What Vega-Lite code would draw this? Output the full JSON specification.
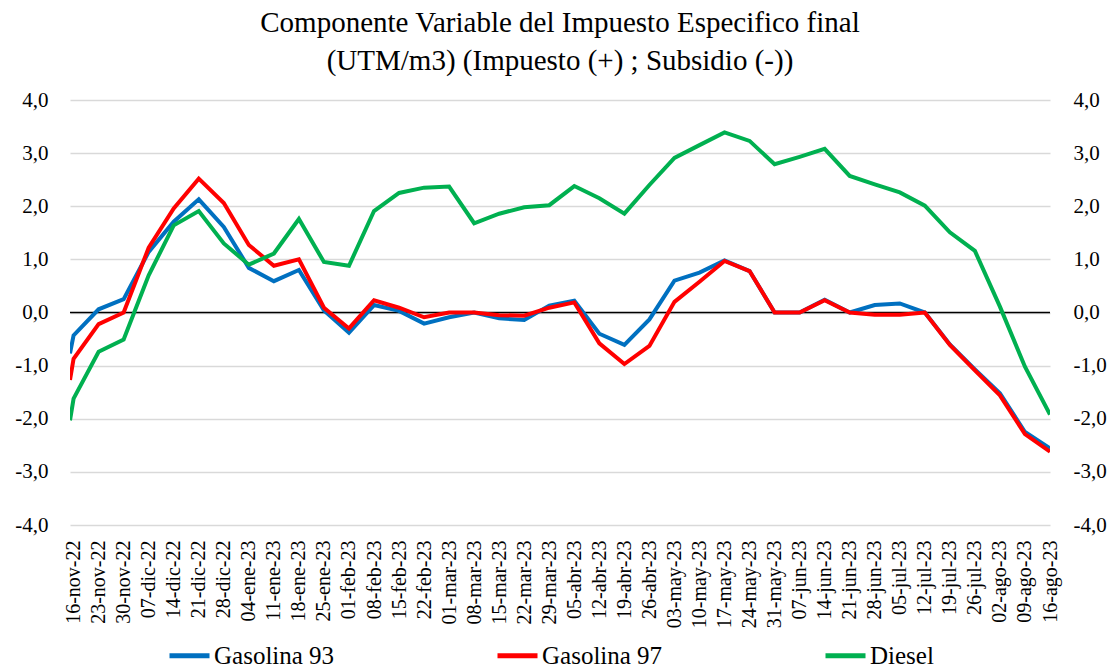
{
  "$schema": "https://vega.github.io/schema/vega-lite/v6.json",
  "width": 980,
  "height": 425,
  "autosize": {"type": "none"},
  "padding": {"left": 70, "top": 100, "right": 60, "bottom": 147},
  "background": "white",
  "title": {
    "text": ["Componente Variable del Impuesto Especifico final", "(UTM/m3) (Impuesto (+) ; Subsidio (-))"],
    "font": "Liberation Serif",
    "fontSize": 29,
    "fontWeight": "normal",
    "color": "black",
    "lineHeight": 38,
    "anchor": "middle",
    "offset": 13
  },
  "config": {
    "view": {"stroke": null},
    "axis": {"labelFont": "Liberation Serif", "labelColor": "black"}
  },
  "layer": [
    {
      "data": {"values": [{"y": 0}]},
      "mark": {"type": "rule", "color": "black", "strokeWidth": 1.5},
      "encoding": {
        "y": {
          "field": "y",
          "type": "quantitative",
          "scale": {"domain": [-4, 4], "nice": false},
          "axis": {
            "orient": "right",
            "title": null,
            "values": [-4, -3, -2, -1, 0, 1, 2, 3, 4],
            "labelExpr": "(datum.value < 0 ? '-' : '') + replace(format(abs(datum.value), '.1f'), '.', ',')",
            "labelFontSize": 21,
            "labelPadding": 23,
            "ticks": false,
            "tickSize": 0,
            "domain": false,
            "grid": false
          }
        }
      }
    },
    {
      "data": {
        "values": [
          {"d": "2022-11-15T00:00:00", "s": "Gasolina 93", "v": -0.77},
          {"d": "2022-11-16T00:00:00", "s": "Gasolina 93", "v": -0.43},
          {"d": "2022-11-23T00:00:00", "s": "Gasolina 93", "v": 0.06},
          {"d": "2022-11-30T00:00:00", "s": "Gasolina 93", "v": 0.25},
          {"d": "2022-12-07T00:00:00", "s": "Gasolina 93", "v": 1.14},
          {"d": "2022-12-14T00:00:00", "s": "Gasolina 93", "v": 1.71},
          {"d": "2022-12-21T00:00:00", "s": "Gasolina 93", "v": 2.13},
          {"d": "2022-12-28T00:00:00", "s": "Gasolina 93", "v": 1.61},
          {"d": "2023-01-04T00:00:00", "s": "Gasolina 93", "v": 0.84},
          {"d": "2023-01-11T00:00:00", "s": "Gasolina 93", "v": 0.59},
          {"d": "2023-01-18T00:00:00", "s": "Gasolina 93", "v": 0.80},
          {"d": "2023-01-25T00:00:00", "s": "Gasolina 93", "v": 0.04},
          {"d": "2023-02-01T00:00:00", "s": "Gasolina 93", "v": -0.38},
          {"d": "2023-02-08T00:00:00", "s": "Gasolina 93", "v": 0.14},
          {"d": "2023-02-15T00:00:00", "s": "Gasolina 93", "v": 0.03},
          {"d": "2023-02-22T00:00:00", "s": "Gasolina 93", "v": -0.21},
          {"d": "2023-03-01T00:00:00", "s": "Gasolina 93", "v": -0.09},
          {"d": "2023-03-08T00:00:00", "s": "Gasolina 93", "v": 0.0},
          {"d": "2023-03-15T00:00:00", "s": "Gasolina 93", "v": -0.11},
          {"d": "2023-03-22T00:00:00", "s": "Gasolina 93", "v": -0.14},
          {"d": "2023-03-29T00:00:00", "s": "Gasolina 93", "v": 0.13},
          {"d": "2023-04-05T00:00:00", "s": "Gasolina 93", "v": 0.22},
          {"d": "2023-04-12T00:00:00", "s": "Gasolina 93", "v": -0.40},
          {"d": "2023-04-19T00:00:00", "s": "Gasolina 93", "v": -0.61},
          {"d": "2023-04-26T00:00:00", "s": "Gasolina 93", "v": -0.13},
          {"d": "2023-05-03T00:00:00", "s": "Gasolina 93", "v": 0.60},
          {"d": "2023-05-10T00:00:00", "s": "Gasolina 93", "v": 0.75},
          {"d": "2023-05-17T00:00:00", "s": "Gasolina 93", "v": 0.98},
          {"d": "2023-05-24T00:00:00", "s": "Gasolina 93", "v": 0.78},
          {"d": "2023-05-31T00:00:00", "s": "Gasolina 93", "v": 0.0},
          {"d": "2023-06-07T00:00:00", "s": "Gasolina 93", "v": 0.0},
          {"d": "2023-06-14T00:00:00", "s": "Gasolina 93", "v": 0.24},
          {"d": "2023-06-21T00:00:00", "s": "Gasolina 93", "v": 0.0},
          {"d": "2023-06-28T00:00:00", "s": "Gasolina 93", "v": 0.14},
          {"d": "2023-07-05T00:00:00", "s": "Gasolina 93", "v": 0.17},
          {"d": "2023-07-12T00:00:00", "s": "Gasolina 93", "v": 0.0},
          {"d": "2023-07-19T00:00:00", "s": "Gasolina 93", "v": -0.60},
          {"d": "2023-07-26T00:00:00", "s": "Gasolina 93", "v": -1.07},
          {"d": "2023-08-02T00:00:00", "s": "Gasolina 93", "v": -1.52},
          {"d": "2023-08-09T00:00:00", "s": "Gasolina 93", "v": -2.25},
          {"d": "2023-08-16T00:00:00", "s": "Gasolina 93", "v": -2.56},
          {"d": "2022-11-15T00:00:00", "s": "Gasolina 97", "v": -1.27},
          {"d": "2022-11-16T00:00:00", "s": "Gasolina 97", "v": -0.87},
          {"d": "2022-11-23T00:00:00", "s": "Gasolina 97", "v": -0.22},
          {"d": "2022-11-30T00:00:00", "s": "Gasolina 97", "v": 0.0},
          {"d": "2022-12-07T00:00:00", "s": "Gasolina 97", "v": 1.22},
          {"d": "2022-12-14T00:00:00", "s": "Gasolina 97", "v": 1.96},
          {"d": "2022-12-21T00:00:00", "s": "Gasolina 97", "v": 2.52},
          {"d": "2022-12-28T00:00:00", "s": "Gasolina 97", "v": 2.06},
          {"d": "2023-01-04T00:00:00", "s": "Gasolina 97", "v": 1.27},
          {"d": "2023-01-11T00:00:00", "s": "Gasolina 97", "v": 0.88},
          {"d": "2023-01-18T00:00:00", "s": "Gasolina 97", "v": 1.0},
          {"d": "2023-01-25T00:00:00", "s": "Gasolina 97", "v": 0.09},
          {"d": "2023-02-01T00:00:00", "s": "Gasolina 97", "v": -0.30},
          {"d": "2023-02-08T00:00:00", "s": "Gasolina 97", "v": 0.23},
          {"d": "2023-02-15T00:00:00", "s": "Gasolina 97", "v": 0.09},
          {"d": "2023-02-22T00:00:00", "s": "Gasolina 97", "v": -0.09},
          {"d": "2023-03-01T00:00:00", "s": "Gasolina 97", "v": 0.0},
          {"d": "2023-03-08T00:00:00", "s": "Gasolina 97", "v": 0.0},
          {"d": "2023-03-15T00:00:00", "s": "Gasolina 97", "v": -0.05},
          {"d": "2023-03-22T00:00:00", "s": "Gasolina 97", "v": -0.06},
          {"d": "2023-03-29T00:00:00", "s": "Gasolina 97", "v": 0.09},
          {"d": "2023-04-05T00:00:00", "s": "Gasolina 97", "v": 0.19},
          {"d": "2023-04-12T00:00:00", "s": "Gasolina 97", "v": -0.58},
          {"d": "2023-04-19T00:00:00", "s": "Gasolina 97", "v": -0.97},
          {"d": "2023-04-26T00:00:00", "s": "Gasolina 97", "v": -0.63},
          {"d": "2023-05-03T00:00:00", "s": "Gasolina 97", "v": 0.20},
          {"d": "2023-05-10T00:00:00", "s": "Gasolina 97", "v": 0.58},
          {"d": "2023-05-17T00:00:00", "s": "Gasolina 97", "v": 0.97},
          {"d": "2023-05-24T00:00:00", "s": "Gasolina 97", "v": 0.78},
          {"d": "2023-05-31T00:00:00", "s": "Gasolina 97", "v": 0.0},
          {"d": "2023-06-07T00:00:00", "s": "Gasolina 97", "v": 0.0},
          {"d": "2023-06-14T00:00:00", "s": "Gasolina 97", "v": 0.23},
          {"d": "2023-06-21T00:00:00", "s": "Gasolina 97", "v": 0.0},
          {"d": "2023-06-28T00:00:00", "s": "Gasolina 97", "v": -0.04},
          {"d": "2023-07-05T00:00:00", "s": "Gasolina 97", "v": -0.04},
          {"d": "2023-07-12T00:00:00", "s": "Gasolina 97", "v": 0.0},
          {"d": "2023-07-19T00:00:00", "s": "Gasolina 97", "v": -0.61},
          {"d": "2023-07-26T00:00:00", "s": "Gasolina 97", "v": -1.09},
          {"d": "2023-08-02T00:00:00", "s": "Gasolina 97", "v": -1.56},
          {"d": "2023-08-09T00:00:00", "s": "Gasolina 97", "v": -2.29},
          {"d": "2023-08-16T00:00:00", "s": "Gasolina 97", "v": -2.62},
          {"d": "2022-11-15T00:00:00", "s": "Diesel", "v": -2.03},
          {"d": "2022-11-16T00:00:00", "s": "Diesel", "v": -1.62},
          {"d": "2022-11-23T00:00:00", "s": "Diesel", "v": -0.74},
          {"d": "2022-11-30T00:00:00", "s": "Diesel", "v": -0.51},
          {"d": "2022-12-07T00:00:00", "s": "Diesel", "v": 0.70},
          {"d": "2022-12-14T00:00:00", "s": "Diesel", "v": 1.64},
          {"d": "2022-12-21T00:00:00", "s": "Diesel", "v": 1.91},
          {"d": "2022-12-28T00:00:00", "s": "Diesel", "v": 1.30},
          {"d": "2023-01-04T00:00:00", "s": "Diesel", "v": 0.90},
          {"d": "2023-01-11T00:00:00", "s": "Diesel", "v": 1.11},
          {"d": "2023-01-18T00:00:00", "s": "Diesel", "v": 1.76},
          {"d": "2023-01-25T00:00:00", "s": "Diesel", "v": 0.95},
          {"d": "2023-02-01T00:00:00", "s": "Diesel", "v": 0.88},
          {"d": "2023-02-08T00:00:00", "s": "Diesel", "v": 1.91},
          {"d": "2023-02-15T00:00:00", "s": "Diesel", "v": 2.25},
          {"d": "2023-02-22T00:00:00", "s": "Diesel", "v": 2.35},
          {"d": "2023-03-01T00:00:00", "s": "Diesel", "v": 2.37},
          {"d": "2023-03-08T00:00:00", "s": "Diesel", "v": 1.68},
          {"d": "2023-03-15T00:00:00", "s": "Diesel", "v": 1.86},
          {"d": "2023-03-22T00:00:00", "s": "Diesel", "v": 1.98},
          {"d": "2023-03-29T00:00:00", "s": "Diesel", "v": 2.02},
          {"d": "2023-04-05T00:00:00", "s": "Diesel", "v": 2.38},
          {"d": "2023-04-12T00:00:00", "s": "Diesel", "v": 2.15},
          {"d": "2023-04-19T00:00:00", "s": "Diesel", "v": 1.86},
          {"d": "2023-04-26T00:00:00", "s": "Diesel", "v": 2.40},
          {"d": "2023-05-03T00:00:00", "s": "Diesel", "v": 2.91},
          {"d": "2023-05-10T00:00:00", "s": "Diesel", "v": 3.15},
          {"d": "2023-05-17T00:00:00", "s": "Diesel", "v": 3.39},
          {"d": "2023-05-24T00:00:00", "s": "Diesel", "v": 3.23},
          {"d": "2023-05-31T00:00:00", "s": "Diesel", "v": 2.79},
          {"d": "2023-06-07T00:00:00", "s": "Diesel", "v": 2.93},
          {"d": "2023-06-14T00:00:00", "s": "Diesel", "v": 3.08},
          {"d": "2023-06-21T00:00:00", "s": "Diesel", "v": 2.57},
          {"d": "2023-06-28T00:00:00", "s": "Diesel", "v": 2.41},
          {"d": "2023-07-05T00:00:00", "s": "Diesel", "v": 2.26},
          {"d": "2023-07-12T00:00:00", "s": "Diesel", "v": 2.01},
          {"d": "2023-07-19T00:00:00", "s": "Diesel", "v": 1.51},
          {"d": "2023-07-26T00:00:00", "s": "Diesel", "v": 1.16},
          {"d": "2023-08-02T00:00:00", "s": "Diesel", "v": 0.11},
          {"d": "2023-08-09T00:00:00", "s": "Diesel", "v": -1.02},
          {"d": "2023-08-16T00:00:00", "s": "Diesel", "v": -1.92}
        ]
      },
      "mark": {"type": "line", "strokeWidth": 4, "strokeJoin": "miter", "clip": true},
      "encoding": {
        "x": {
          "field": "d",
          "type": "temporal",
          "scale": {"domain": [{"year": 2022, "month": 11, "date": 15}, {"year": 2023, "month": 8, "date": 16}]},
          "axis": {
            "title": null,
            "values": [
              {"year": 2022, "month": 11, "date": 16}, {"year": 2022, "month": 11, "date": 23}, {"year": 2022, "month": 11, "date": 30},
              {"year": 2022, "month": 12, "date": 7}, {"year": 2022, "month": 12, "date": 14}, {"year": 2022, "month": 12, "date": 21}, {"year": 2022, "month": 12, "date": 28},
              {"year": 2023, "month": 1, "date": 4}, {"year": 2023, "month": 1, "date": 11}, {"year": 2023, "month": 1, "date": 18}, {"year": 2023, "month": 1, "date": 25},
              {"year": 2023, "month": 2, "date": 1}, {"year": 2023, "month": 2, "date": 8}, {"year": 2023, "month": 2, "date": 15}, {"year": 2023, "month": 2, "date": 22},
              {"year": 2023, "month": 3, "date": 1}, {"year": 2023, "month": 3, "date": 8}, {"year": 2023, "month": 3, "date": 15}, {"year": 2023, "month": 3, "date": 22}, {"year": 2023, "month": 3, "date": 29},
              {"year": 2023, "month": 4, "date": 5}, {"year": 2023, "month": 4, "date": 12}, {"year": 2023, "month": 4, "date": 19}, {"year": 2023, "month": 4, "date": 26},
              {"year": 2023, "month": 5, "date": 3}, {"year": 2023, "month": 5, "date": 10}, {"year": 2023, "month": 5, "date": 17}, {"year": 2023, "month": 5, "date": 24}, {"year": 2023, "month": 5, "date": 31},
              {"year": 2023, "month": 6, "date": 7}, {"year": 2023, "month": 6, "date": 14}, {"year": 2023, "month": 6, "date": 21}, {"year": 2023, "month": 6, "date": 28},
              {"year": 2023, "month": 7, "date": 5}, {"year": 2023, "month": 7, "date": 12}, {"year": 2023, "month": 7, "date": 19}, {"year": 2023, "month": 7, "date": 26},
              {"year": 2023, "month": 8, "date": 2}, {"year": 2023, "month": 8, "date": 9}, {"year": 2023, "month": 8, "date": 16}
            ],
            "labelExpr": "timeFormat(datum.value, '%d') + '-' + ['ene','feb','mar','abr','may','jun','jul','ago','sep','oct','nov','dic'][month(datum.value)] + '-' + timeFormat(datum.value, '%y')",
            "labelAngle": 270,
            "labelAlign": "right",
            "labelBaseline": "middle",
            "labelFontSize": 20,
            "labelPadding": 15,
            "labelOverlap": false,
            "labelBound": false,
            "labelFlush": false,
            "ticks": false,
            "tickSize": 0,
            "domain": false,
            "grid": false
          }
        },
        "y": {
          "field": "v",
          "type": "quantitative",
          "scale": {"domain": [-4, 4], "nice": false},
          "axis": {
            "orient": "left",
            "title": null,
            "values": [-4, -3, -2, -1, 0, 1, 2, 3, 4],
            "labelExpr": "(datum.value < 0 ? '-' : '') + replace(format(abs(datum.value), '.1f'), '.', ',')",
            "labelFontSize": 21,
            "labelPadding": 22,
            "ticks": false,
            "tickSize": 0,
            "domain": false,
            "grid": true,
            "gridColor": "#d9d9d9",
            "gridWidth": 1.5
          }
        },
        "color": {
          "field": "s",
          "type": "nominal",
          "scale": {"domain": ["Gasolina 93", "Gasolina 97", "Diesel"], "range": ["#0070C0", "#FF0000", "#00B050"]},
          "legend": {
            "title": null,
            "orient": "none",
            "legendX": 97,
            "legendY": 533,
            "direction": "horizontal",
            "columns": 3,
            "gridAlign": "all",
            "columnPadding": 152,
            "padding": 0,
            "symbolType": "stroke",
            "symbolSize": 1600,
            "symbolStrokeWidth": 5,
            "labelFont": "Liberation Serif",
            "labelFontSize": 25,
            "labelColor": "black",
            "labelOffset": 2,
            "labelLimit": 400
          }
        }
      }
    }
  ],
  "resolve": {"scale": {"y": "independent"}}
}
